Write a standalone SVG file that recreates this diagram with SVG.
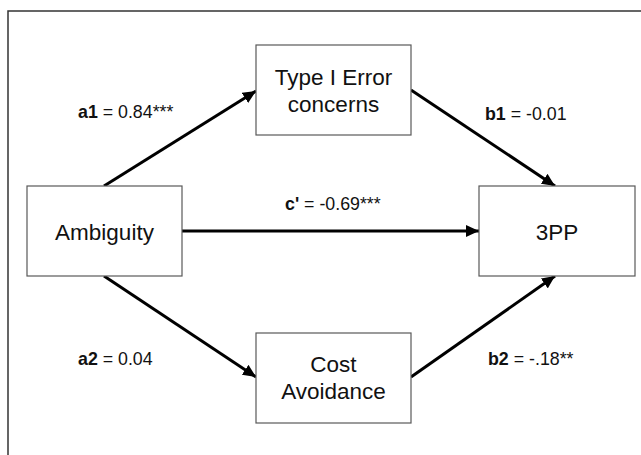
<svg xmlns="http://www.w3.org/2000/svg" width="641" height="455" viewBox="0 0 641 455">
<style>
.frame{fill:none;stroke:#333;stroke-width:1.5}
.box{fill:#fff;stroke:#595959;stroke-width:1.2}
.nt{font-family:"Liberation Sans",Arial,sans-serif;font-size:22.5px;fill:#111;text-anchor:middle}
.lb{font-family:"Liberation Sans",Arial,sans-serif;font-size:17.8px;fill:#111}
.lb tspan.b{font-weight:bold}
.conn line{stroke:#000;stroke-width:3;marker-end:url(#ah)}
</style>
<defs>
<marker id="ah" markerUnits="userSpaceOnUse" markerWidth="14" markerHeight="12" refX="13" refY="6" orient="auto">
<path d="M0,0 L13,6 L0,12 z" fill="#000"/>
</marker>
</defs>
<rect width="641" height="455" fill="#fff"/>
<path class="frame" d="M8,460 L8,11 L650,11"/>
<g id="connectors" class="conn">
<line x1="104" y1="186" x2="256" y2="91"/>
<line x1="411" y1="90" x2="555" y2="186"/>
<line x1="182" y1="231" x2="479" y2="231"/>
<line x1="104" y1="276" x2="256" y2="377"/>
<line x1="411" y1="377" x2="555" y2="276"/>
</g>
<g id="ambiguity">
<rect class="box" x="27" y="186" width="155" height="90"/>
<text class="nt" x="104.5" y="240">Ambiguity</text>
</g>
<g id="type1">
<rect class="box" x="256" y="45" width="155" height="90"/>
<text class="nt" x="333.5" y="85">Type I Error</text>
<text class="nt" x="333.5" y="112">concerns</text>
</g>
<g id="threepp">
<rect class="box" x="479" y="186" width="156" height="90"/>
<text class="nt" x="557" y="240">3PP</text>
</g>
<g id="cost">
<rect class="box" x="256" y="333" width="155" height="90"/>
<text class="nt" x="333.5" y="372">Cost</text>
<text class="nt" x="333.5" y="399">Avoidance</text>
</g>
<g id="labels">
<text class="lb" x="78" y="118"><tspan class="b">a1</tspan> = 0.84***</text>
<text class="lb" x="485" y="120"><tspan class="b">b1</tspan> = -0.01</text>
<text class="lb" x="285" y="210"><tspan class="b">c'</tspan> = -0.69***</text>
<text class="lb" x="78" y="365"><tspan class="b">a2</tspan> = 0.04</text>
<text class="lb" x="488" y="365"><tspan class="b">b2</tspan> = -.18**</text>
</g>
</svg>
